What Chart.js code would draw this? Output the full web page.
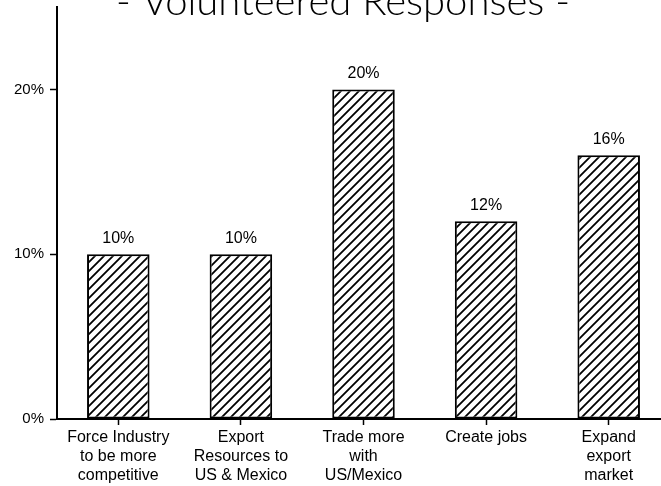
<!DOCTYPE html>
<html>
<head>
<meta charset="utf-8">
<script src="https://cdn.jsdelivr.net/npm/chart.js@4/dist/chart.umd.min.js"></script>
<style>
  html, body { margin: 0; padding: 0; background: #fff; overflow: hidden; }
  #wrap { position: relative; width: 670px; height: 486px; }
</style>
</head>
<body>
<div id="wrap"><canvas id="chart"></canvas></div>
<script>
// Volunteered responses (percent of respondents)
const categories = [
  ["Force Industry", "to be more", "competitive"],
  ["Export", "Resources to", "US & Mexico"],
  ["Trade more", "with", "US/Mexico"],
  ["Create jobs"],
  ["Expand", "export", "market"]
];
const responses = [10, 10, 20, 12, 16];
const yTickValues = [0, 10, 20];
const yMax = 25;
const titleText = "- Volunteered Responses -";

const labelFont = "Liberation Sans";

// Diagonal "/" hatch fill for the bars
function makeHatch() {
  const s = 9;
  const c = document.createElement("canvas");
  c.width = s; c.height = s;
  const g = c.getContext("2d");
  g.fillStyle = "#fff";
  g.fillRect(0, 0, s, s);
  g.strokeStyle = "#000";
  g.lineWidth = 1.8;
  g.beginPath();
  g.moveTo(-1, s + 1); g.lineTo(s + 1, -1);
  g.moveTo(-1, 1); g.lineTo(1, -1);
  g.moveTo(s - 1, s + 1); g.lineTo(s + 1, s - 1);
  g.stroke();
  return g.createPattern(c, "repeat");
}

// Value labels above each bar and the title line
const annotate = {
  id: "annotate",
  afterDatasetsDraw(chart) {
    const ctx = chart.ctx;
    const meta = chart.getDatasetMeta(0);
    ctx.save();
    ctx.fillStyle = "#000";
    ctx.font = "16px '" + labelFont + "'";
    ctx.textAlign = "center";
    ctx.textBaseline = "bottom";
    meta.data.forEach((bar, i) => {
      ctx.fillText(responses[i] + "%", bar.x, bar.y - 8);
    });
    ctx.font = "300 40px Lato";
    ctx.textBaseline = "alphabetic";
    ctx.fillText(titleText, 343, 15);
    ctx.restore();
  }
};

new Chart(document.getElementById("chart"), {
  type: "bar",
  data: {
    labels: categories,
    datasets: [{
      data: responses,
      backgroundColor: makeHatch(),
      borderColor: "#000",
      borderWidth: 2,
      borderSkipped: false,
      categoryPercentage: 1,
      barPercentage: 0.51
    }]
  },
  options: {
    responsive: true,
    maintainAspectRatio: false,
    animation: false,
    layout: { padding: { top: 7, left: 0, right: 0, bottom: 0 } },
    plugins: {
      legend: { display: false },
      tooltip: { enabled: false },
      title: { display: false }
    },
    scales: {
      x: {
        grid: {
          display: true,
          offset: false,
          drawOnChartArea: false,
          drawTicks: true,
          tickLength: 6,
          tickWidth: 1.5,
          color: "#000"
        },
        border: { display: true, color: "#000", width: 2 },
        ticks: {
          color: "#000",
          font: { family: labelFont, size: 16, lineHeight: 1.2 },
          padding: 3,
          maxRotation: 0,
          autoSkip: false
        },
        afterFit(scale) { scale.height = 67; }
      },
      y: {
        min: 0,
        max: yMax,
        grid: {
          display: true,
          drawOnChartArea: false,
          drawTicks: true,
          tickLength: 7,
          tickWidth: 1.5,
          color: "#000"
        },
        border: { display: true, color: "#000", width: 2 },
        ticks: {
          color: "#000",
          font: { family: labelFont, size: 15 },
          padding: 6,
          callback: (v) => v + "%"
        },
        afterBuildTicks(scale) {
          scale.ticks = yTickValues.map(v => ({ value: v }));
        },
        afterFit(scale) {
          scale.width = 57;
          scale.paddingTop = 0;
          scale.paddingBottom = 0;
        }
      }
    }
  },
  plugins: [annotate]
});
</script>
</body>
</html>
